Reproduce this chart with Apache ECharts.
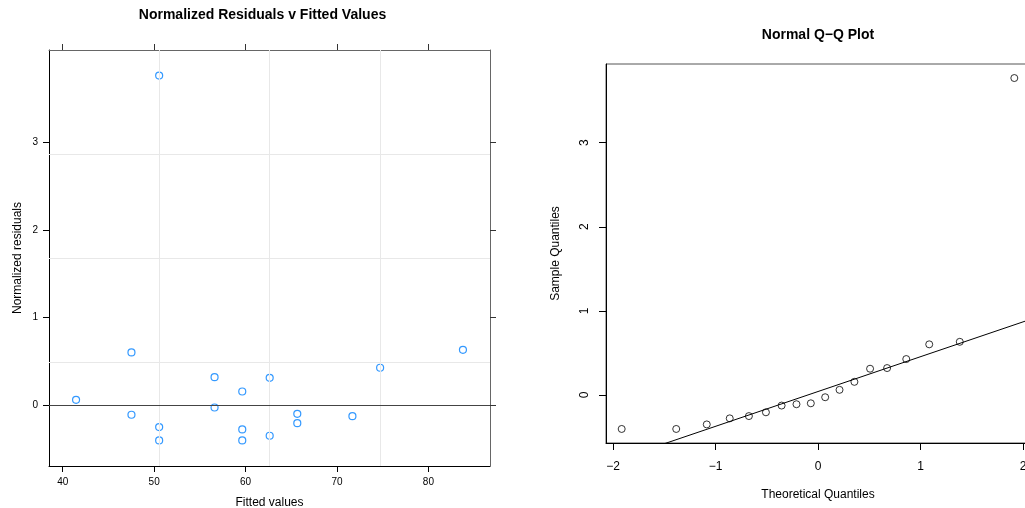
<!DOCTYPE html>
<html>
<head>
<meta charset="utf-8">
<script src="https://cdn.jsdelivr.net/npm/echarts@6/dist/echarts.min.js"></script>
<style>
html,body{margin:0;padding:0;background:#fff;}
#c{width:1025px;height:508px;}
</style>
</head>
<body>
<div id="c"></div>
<script>
// ---- data ----
const fittedValues = [41.46, 47.52, 47.52, 50.55, 50.55, 50.55, 56.61, 56.61, 59.64, 59.64, 59.64, 62.64, 62.64, 65.66, 65.66, 71.69, 74.72, 83.78];
const normResiduals = [0.061, 0.602, -0.110, -0.251, -0.404, 3.768, 0.320, -0.027, 0.156, -0.278, -0.404, 0.312, -0.350, -0.099, -0.206, -0.126, 0.427, 0.632];
const theoreticalQuantiles = [-1.915, -1.383, -1.085, -0.861, -0.674, -0.508, -0.355, -0.210, -0.070, 0.070, 0.210, 0.355, 0.508, 0.674, 0.861, 1.085, 1.383, 1.915];
const refLinesX = [50.55, 62.64, 74.72];
const refLinesY = [0.494, 1.679, 2.866];
const qqLineIntercept = 0.041;
const qqLineSlope = 0.414;
const leftXTicks = [40, 50, 60, 70, 80];
const leftYTicks = [0, 1, 2, 3];
const rightXTicks = [-2, -1, 0, 1, 2];
const rightYTicks = [0, 1, 2, 3];

// ---- derived ----
const sampleQuantiles = normResiduals.slice().sort((a, b) => a - b);
const residPoints = fittedValues.map((x, i) => [x, normResiduals[i]]);
const qqPoints = theoreticalQuantiles.map((x, i) => [x, sampleQuantiles[i]]);
const L = { xMin: 38.5, xMax: 86.74, yMin: -0.696, yMax: 4.06 };
const R = { xMin: -2.068, xMax: 2.068, yMin: -0.571, yMax: 3.935 };
const qqLine = [R.xMin, R.xMax].map(x => [x, qqLineIntercept + qqLineSlope * x]);

const FONT = 'Liberation Sans, Arial, Helvetica, sans-serif';
const minus = v => String(v).replace('-', '\u2212');

function axisBase(extra) {
  return Object.assign({
    type: 'value',
    splitLine: { show: false },
    axisLine: { show: true, onZero: false, lineStyle: { color: '#000', width: 1 } },
    axisTick: { show: true, inside: false, length: 6, lineStyle: { color: '#000', width: 1 } },
    axisLabel: { show: true, color: '#000', fontSize: 10, fontFamily: FONT },
    nameTextStyle: { color: '#000', fontSize: 12, fontFamily: FONT }
  }, extra);
}

const chart = echarts.init(document.getElementById('c'), null, { renderer: 'canvas' });
chart.setOption({
  animation: false,
  backgroundColor: '#fff',
  textStyle: { fontFamily: FONT },
  title: [
    { text: 'Normalized Residuals v Fitted Values', left: 262.5, top: 8, padding: 0, textAlign: 'center',
      textStyle: { fontSize: 14, fontWeight: 'bold', color: '#000', fontFamily: FONT } },
    { text: 'Normal Q\u2212Q Plot', left: 818, top: 28, padding: 0, textAlign: 'center',
      textStyle: { fontSize: 14, fontWeight: 'bold', color: '#000', fontFamily: FONT } }
  ],
  grid: [
    { left: 49, top: 50, width: 441, height: 416, show: false, containLabel: false, outerBoundsMode: 'none' },
    { left: 606, top: 64, width: 424, height: 379, show: true, borderColor: '#555', borderWidth: 1,
      backgroundColor: 'transparent', containLabel: false, outerBoundsMode: 'none' }
  ],
  xAxis: [
    axisBase({ gridIndex: 0, position: 'bottom', min: L.xMin, max: L.xMax,
      axisTick: { show: true, length: 6, customValues: leftXTicks, lineStyle: { color: '#000' } },
      axisLabel: { show: true, customValues: leftXTicks, margin: 11, color: '#000', fontSize: 10, fontFamily: FONT },
      name: 'Fitted values', nameLocation: 'middle', nameGap: 31 }),
    axisBase({ gridIndex: 0, position: 'top', min: L.xMin, max: L.xMax,
      axisLine: { show: true, onZero: false, lineStyle: { color: '#666', width: 1 } },
      axisTick: { show: true, length: 6, customValues: leftXTicks, lineStyle: { color: '#333' } },
      axisLabel: { show: false } }),
    axisBase({ gridIndex: 1, position: 'bottom', min: R.xMin, max: R.xMax,
      axisTick: { show: true, length: 7, customValues: rightXTicks, lineStyle: { color: '#000' } },
      axisLabel: { show: true, customValues: rightXTicks, margin: 18, color: '#000', fontSize: 12, fontFamily: FONT, formatter: minus },
      name: 'Theoretical Quantiles', nameLocation: 'middle', nameGap: 46 })
  ],
  yAxis: [
    axisBase({ gridIndex: 0, position: 'left', min: L.yMin, max: L.yMax,
      axisTick: { show: true, length: 6, customValues: leftYTicks, lineStyle: { color: '#000' } },
      axisLabel: { show: true, customValues: leftYTicks, margin: 11, color: '#000', fontSize: 10, fontFamily: FONT },
      name: 'Normalized residuals', nameLocation: 'middle', nameGap: 25 }),
    axisBase({ gridIndex: 0, position: 'right', min: L.yMin, max: L.yMax,
      axisLine: { show: true, onZero: false, lineStyle: { color: '#666', width: 1 } },
      axisTick: { show: true, length: 6, customValues: leftYTicks, lineStyle: { color: '#333' } },
      axisLabel: { show: false } }),
    axisBase({ gridIndex: 1, position: 'left', min: R.yMin, max: R.yMax,
      axisTick: { show: true, length: 7, customValues: rightYTicks, lineStyle: { color: '#000' } },
      axisLabel: { show: true, customValues: rightYTicks, rotate: 90, margin: 15, color: '#000', fontSize: 12, fontFamily: FONT, formatter: minus },
      name: 'Sample Quantiles', nameLocation: 'middle', nameGap: 44 })
  ],
  series: [
    {
      type: 'scatter', xAxisIndex: 0, yAxisIndex: 0, data: [], z: 1, silent: true,
      markLine: {
        silent: true, symbol: ['none', 'none'], animation: false,
        label: { show: false },
        lineStyle: { color: '#e8e8e8', width: 1, type: 'solid' },
        data: refLinesX.map(v => ({ xAxis: v })).concat(refLinesY.map(v => ({ yAxis: v })))
      }
    },
    {
      type: 'scatter', xAxisIndex: 0, yAxisIndex: 0, data: [], z: 2, silent: true,
      markLine: {
        silent: true, symbol: ['none', 'none'], animation: false,
        label: { show: false },
        lineStyle: { color: '#444', width: 1, type: 'solid' },
        data: [{ yAxis: 0 }]
      }
    },
    {
      type: 'scatter', xAxisIndex: 0, yAxisIndex: 0, z: 3,
      data: residPoints, symbol: 'circle', symbolSize: 7,
      itemStyle: { color: 'rgba(0,0,0,0)', borderColor: '#0080ff', borderWidth: 1.2 }
    },
    {
      type: 'line', xAxisIndex: 2, yAxisIndex: 2, z: 2, clip: true,
      data: qqLine, symbol: 'none', showSymbol: false,
      lineStyle: { color: '#000', width: 1 }
    },
    {
      type: 'scatter', xAxisIndex: 2, yAxisIndex: 2, z: 3,
      data: qqPoints, symbol: 'circle', symbolSize: 7,
      itemStyle: { color: 'rgba(0,0,0,0)', borderColor: '#000', borderWidth: 1 }
    }
  ]
});
</script>
</body>
</html>
